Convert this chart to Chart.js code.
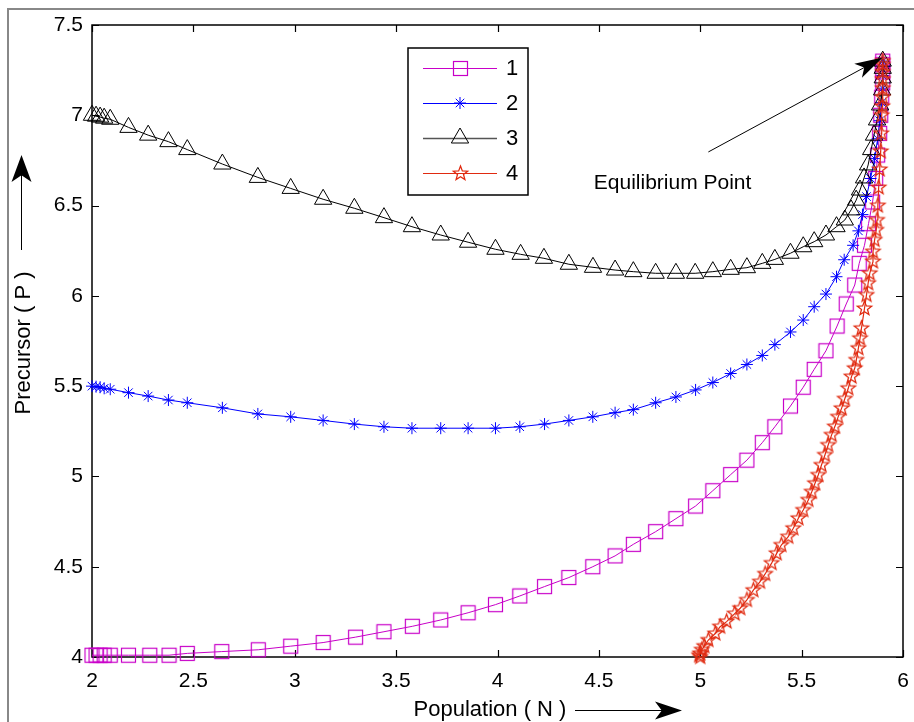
<!DOCTYPE html>
<html><head><meta charset="utf-8">
<script src="https://cdn.jsdelivr.net/npm/chart.js@4/dist/chart.umd.min.js"></script>
<style>html,body{margin:0;padding:0;background:#fff;overflow:hidden}#wrap{position:relative;width:914px;height:722px}</style>
</head><body><div id="wrap"><canvas id="c" width="914" height="722"></canvas></div>
<script>
const seriesNames = ['1', '2', '3', '4'];
const xTicks = [2, 2.5, 3, 3.5, 4, 4.5, 5, 5.5, 6];
const yTicks = [4, 4.5, 5, 5.5, 6, 6.5, 7, 7.5];
const xTitle = 'Population ( N )';
const yTitle = 'Precursor ( P )';
const noteText = 'Equilibrium Point';
const notePos = [4.475, 6.625];
const arrowTail = [5.04, 6.797];
const arrowTip = [5.90, 7.32];

const s1x = [2.0,2.02,2.04,2.06,2.09,2.18,2.285,2.38,2.47,2.64,2.82,2.98,3.14,3.30,3.44,3.58,3.72,3.855,3.99,4.11,4.232,4.352,4.47,4.58,4.67,4.78,4.88,4.977,5.062,5.15,5.23,5.306,5.368,5.445,5.508,5.562,5.62,5.675,5.72,5.762,5.784,5.81,5.83,5.85,5.865,5.875,5.885,5.89,5.895,5.90,5.90,5.90,5.90];
const s1y = [4.01,4.01,4.01,4.01,4.01,4.01,4.01,4.01,4.02,4.03,4.04,4.06,4.08,4.11,4.14,4.17,4.205,4.245,4.29,4.338,4.39,4.44,4.50,4.56,4.624,4.694,4.766,4.836,4.921,5.01,5.09,5.187,5.275,5.39,5.494,5.593,5.696,5.833,5.955,6.06,6.18,6.28,6.40,6.52,6.65,6.78,6.90,7.00,7.10,7.18,7.24,7.28,7.30];

const s2x = [2.0,2.02,2.04,2.06,2.09,2.18,2.277,2.377,2.47,2.643,2.818,2.98,3.14,3.294,3.44,3.578,3.72,3.855,3.99,4.11,4.232,4.352,4.47,4.58,4.67,4.78,4.88,4.977,5.062,5.15,5.23,5.306,5.368,5.445,5.508,5.562,5.62,5.672,5.71,5.754,5.78,5.80,5.82,5.84,5.86,5.875,5.885,5.895,5.90,5.90,5.905,5.90];
const s2y = [5.50,5.497,5.494,5.488,5.483,5.464,5.445,5.423,5.408,5.38,5.346,5.33,5.31,5.29,5.275,5.267,5.267,5.267,5.267,5.275,5.29,5.31,5.33,5.353,5.37,5.408,5.44,5.479,5.52,5.57,5.62,5.67,5.73,5.80,5.866,5.94,6.01,6.106,6.20,6.28,6.36,6.45,6.55,6.65,6.76,6.87,6.97,7.07,7.15,7.22,7.27,7.30];

const s3x = [2.0,2.02,2.04,2.06,2.09,2.18,2.277,2.377,2.47,2.643,2.818,2.98,3.14,3.294,3.44,3.578,3.72,3.855,3.99,4.114,4.229,4.352,4.471,4.58,4.67,4.78,4.88,4.975,5.062,5.15,5.23,5.306,5.368,5.445,5.508,5.562,5.62,5.672,5.713,5.744,5.769,5.788,5.808,5.828,5.843,5.857,5.872,5.887,5.897,5.90,5.90,5.90];
const s3y = [7.0,6.995,6.99,6.984,6.978,6.933,6.89,6.854,6.81,6.73,6.656,6.595,6.535,6.485,6.433,6.383,6.337,6.297,6.258,6.23,6.208,6.175,6.158,6.143,6.134,6.125,6.125,6.125,6.134,6.147,6.156,6.18,6.202,6.236,6.272,6.30,6.337,6.383,6.42,6.476,6.53,6.586,6.653,6.725,6.81,6.89,6.974,7.057,7.14,7.207,7.26,7.30];

const s4x = [5.0,4.995,5.0,5.008,5.02,5.04,5.074,5.098,5.13,5.17,5.197,5.23,5.262,5.295,5.32,5.352,5.377,5.40,5.434,5.459,5.484,5.508,5.533,5.55,5.566,5.582,5.598,5.615,5.631,5.648,5.664,5.68,5.697,5.713,5.73,5.746,5.762,5.77,5.78,5.788,5.795,5.81,5.82,5.828,5.836,5.852,5.852,5.86,5.868,5.872,5.876,5.88,5.885,5.89,5.893,5.895,5.898,5.90,5.90,5.90,5.90,5.90,5.90];
const s4y = [4.0,4.01,4.02,4.04,4.06,4.094,4.13,4.168,4.196,4.24,4.27,4.316,4.37,4.417,4.46,4.52,4.574,4.62,4.666,4.713,4.768,4.814,4.87,4.915,4.962,5.008,5.063,5.119,5.174,5.23,5.276,5.33,5.377,5.43,5.488,5.553,5.599,5.645,5.71,5.765,5.82,5.93,6.005,6.07,6.125,6.19,6.245,6.31,6.365,6.42,6.5,6.6,6.7,6.8,6.9,7.0,7.05,7.1,7.15,7.2,7.24,7.28,7.30];

const colors = ['#C800C8', '#0000FF', '#000000', '#E02A10'];
const FONT = '"Liberation Sans", Arial, sans-serif';

function pts(xs, ys) { return xs.map((x, i) => ({x: x, y: ys[i]})); }

function makePentagram(color, R) {
  const s = Math.ceil(R * 2 + 4);
  const c = document.createElement('canvas');
  c.width = s; c.height = s;
  const g = c.getContext('2d');
  g.strokeStyle = color; g.lineWidth = 1.25;
  g.beginPath();
  for (let i = 0; i < 10; i++) {
    const r = (i % 2) ? R * 0.42 : R;
    const a = -Math.PI / 2 + i * Math.PI / 5;
    g.lineTo(s / 2 + r * Math.cos(a), s / 2 + r * Math.sin(a));
  }
  g.closePath(); g.stroke();
  return c;
}
function makeSquare(color, side) {
  const s = side + 3;
  const c = document.createElement('canvas');
  c.width = s; c.height = s;
  const g = c.getContext('2d');
  g.strokeStyle = color; g.lineWidth = 1.2;
  g.strokeRect(1.5, 1.5, side, side);
  return c;
}
const pentagram = makePentagram(colors[3], 7.5);
const squareImg = makeSquare(colors[0], 14);

const styles = [squareImg, 'star', 'triangle', pentagram];
const radii = [8, 6, 10, 7.5];

function drawMarker(ctx, i, x, y) {
  const st = styles[i], r = radii[i];
  ctx.save();
  ctx.strokeStyle = colors[i]; ctx.lineWidth = 1;
  ctx.beginPath();
  if (st === 'star') {
    ctx.moveTo(x - r, y); ctx.lineTo(x + r, y);
    ctx.moveTo(x, y - r); ctx.lineTo(x, y + r);
    const d = r * Math.SQRT1_2;
    ctx.moveTo(x - d, y - d); ctx.lineTo(x + d, y + d);
    ctx.moveTo(x - d, y + d); ctx.lineTo(x + d, y - d);
    ctx.stroke();
  } else if (st === 'triangle') {
    for (let k = 0; k < 3; k++) {
      const a = k * 2 * Math.PI / 3;
      ctx.lineTo(x + Math.sin(a) * r, y - Math.cos(a) * r);
    }
    ctx.closePath(); ctx.stroke();
  } else {
    ctx.drawImage(st, Math.round(x - st.width / 2), Math.round(y - st.height / 2));
  }
  ctx.restore();
}

function arrowHead(ctx, tx, ty, ang, len, half) {
  const bx = tx - Math.cos(ang) * len, by = ty - Math.sin(ang) * len;
  const nx = -Math.sin(ang), ny = Math.cos(ang);
  const mx = tx - Math.cos(ang) * len * 0.75, my = ty - Math.sin(ang) * len * 0.75;
  ctx.beginPath();
  ctx.moveTo(tx, ty);
  ctx.lineTo(bx + nx * half, by + ny * half);
  ctx.lineTo(mx, my);
  ctx.lineTo(bx - nx * half, by - ny * half);
  ctx.closePath(); ctx.fill();
}

const decor = {
  id: 'decor',
  beforeDraw(chart) {
    const ctx = chart.ctx;
    ctx.save();
    ctx.fillStyle = '#fff'; ctx.fillRect(0, 0, chart.width, chart.height);
    ctx.strokeStyle = '#888'; ctx.lineWidth = 2;
    ctx.strokeRect(8, 9, chart.width + 20, chart.height + 20);
    ctx.restore();
  },
  beforeDatasetsDraw(chart) {
    const ctx = chart.ctx, a = chart.chartArea;
    const xs = chart.scales.x, ys = chart.scales.y;
    ctx.save();
    ctx.strokeStyle = '#000'; ctx.lineWidth = 1.5;
    ctx.strokeRect(a.left, a.top, a.right - a.left, a.bottom - a.top);
    ctx.lineWidth = 1.2;
    ctx.beginPath();
    const tl = 7;
    xTicks.forEach(v => {
      const p = Math.round(xs.getPixelForValue(v)) + 0.5;
      ctx.moveTo(p, a.bottom); ctx.lineTo(p, a.bottom - tl);
      ctx.moveTo(p, a.top); ctx.lineTo(p, a.top + tl);
    });
    yTicks.forEach(v => {
      const p = Math.round(ys.getPixelForValue(v)) + 0.5;
      ctx.moveTo(a.left, p); ctx.lineTo(a.left + tl, p);
      ctx.moveTo(a.right, p); ctx.lineTo(a.right - tl, p);
    });
    ctx.stroke();
    ctx.restore();
  },
  afterDraw(chart) {
    const ctx = chart.ctx;
    const xs = chart.scales.x, ys = chart.scales.y;
    ctx.save();
    // legend
    const L = 408, T = 48, R = 528, B = 195;
    ctx.fillStyle = '#fff';
    ctx.fillRect(L, T, R - L, B - T);
    ctx.strokeStyle = '#000'; ctx.lineWidth = 1.5;
    ctx.strokeRect(L, T, R - L, B - T);
    const rows = [68, 103, 138, 173];
    seriesNames.forEach((n, i) => {
      const y = rows[i];
      ctx.strokeStyle = i === 2 ? '#555' : colors[i];
      ctx.lineWidth = i === 2 ? 1.6 : 1;
      ctx.beginPath(); ctx.moveTo(423, y + 0.5); ctx.lineTo(497, y + 0.5); ctx.stroke();
      drawMarker(ctx, i, 460, y);
      ctx.fillStyle = '#000';
      ctx.font = '22px ' + FONT;
      ctx.textAlign = 'left'; ctx.textBaseline = 'middle';
      ctx.fillText(n, 506, y + 1);
    });
    // equilibrium annotation
    const tx = xs.getPixelForValue(arrowTip[0]), ty = ys.getPixelForValue(arrowTip[1]);
    const sx = xs.getPixelForValue(arrowTail[0]), sy = ys.getPixelForValue(arrowTail[1]);
    const ang = Math.atan2(ty - sy, tx - sx);
    ctx.strokeStyle = '#000'; ctx.fillStyle = '#000'; ctx.lineWidth = 1;
    ctx.beginPath(); ctx.moveTo(sx, sy); ctx.lineTo(tx - Math.cos(ang) * 15, ty - Math.sin(ang) * 15); ctx.stroke();
    arrowHead(ctx, tx, ty, ang, 28, 8);
    ctx.font = '21px ' + FONT;
    ctx.textAlign = 'left'; ctx.textBaseline = 'middle';
    ctx.fillText(noteText, xs.getPixelForValue(notePos[0]), ys.getPixelForValue(notePos[1]));
    // axis titles
    ctx.font = '22px ' + FONT;
    ctx.textAlign = 'center'; ctx.textBaseline = 'middle';
    ctx.fillText(xTitle, 490, 710);
    ctx.beginPath(); ctx.moveTo(575, 710.5); ctx.lineTo(665, 710.5); ctx.stroke();
    arrowHead(ctx, 682, 710.5, 0, 27, 9);
    ctx.save();
    ctx.translate(24, 343); ctx.rotate(-Math.PI / 2);
    ctx.fillText(yTitle, 0, 0);
    ctx.restore();
    ctx.beginPath(); ctx.moveTo(21.5, 250); ctx.lineTo(21.5, 170); ctx.stroke();
    arrowHead(ctx, 21.5, 155, -Math.PI / 2, 27, 10);
    ctx.restore();
  }
};

const series = [pts(s1x, s1y), pts(s2x, s2y), pts(s3x, s3y), pts(s4x, s4y)];

new Chart(document.getElementById('c'), {
  type: 'scatter',
  data: {
    datasets: series.map((d, i) => ({
      label: seriesNames[i],
      data: d,
      showLine: true,
      tension: 0,
      borderColor: colors[i],
      borderWidth: i === 3 ? 1.2 : 1,
      pointStyle: styles[i],
      pointRadius: radii[i],
      pointHoverRadius: radii[i],
      pointBorderColor: colors[i],
      pointHoverBorderColor: colors[i],
      pointBackgroundColor: 'rgba(0,0,0,0)',
      pointHoverBackgroundColor: 'rgba(0,0,0,0)',
      pointBorderWidth: 1,
      pointHoverBorderWidth: 1,
      clip: false,
      order: 4 - i
    }))
  },
  options: {
    responsive: false,
    animation: false,
    events: [],
    hover: { mode: null },
    layout: { padding: { left: 0, top: 25, right: 9, bottom: 0 } },
    plugins: { legend: { display: false }, tooltip: { enabled: false } },
    scales: {
      x: {
        type: 'linear', min: 2, max: 6,
        afterBuildTicks: s => { s.ticks = xTicks.map(v => ({ value: v })); },
        afterFit: s => { s.height = 65; s.paddingLeft = 0; s.paddingRight = 0; },
        grid: { display: false, drawTicks: false },
        border: { display: false },
        ticks: { color: '#000', font: { family: FONT, size: 21 }, padding: 12, maxRotation: 0, autoSkip: false,
                 callback: v => String(v) }
      },
      y: {
        type: 'linear', min: 4, max: 7.5,
        afterBuildTicks: s => { s.ticks = yTicks.map(v => ({ value: v })); },
        afterFit: s => { s.width = 92; s.paddingTop = 0; s.paddingBottom = 0; },
        grid: { display: false, drawTicks: false },
        border: { display: false },
        ticks: { color: '#000', font: { family: FONT, size: 21 }, padding: 9, autoSkip: false,
                 callback: v => String(v) }
      }
    }
  },
  plugins: [decor]
});
</script>
</body></html>
